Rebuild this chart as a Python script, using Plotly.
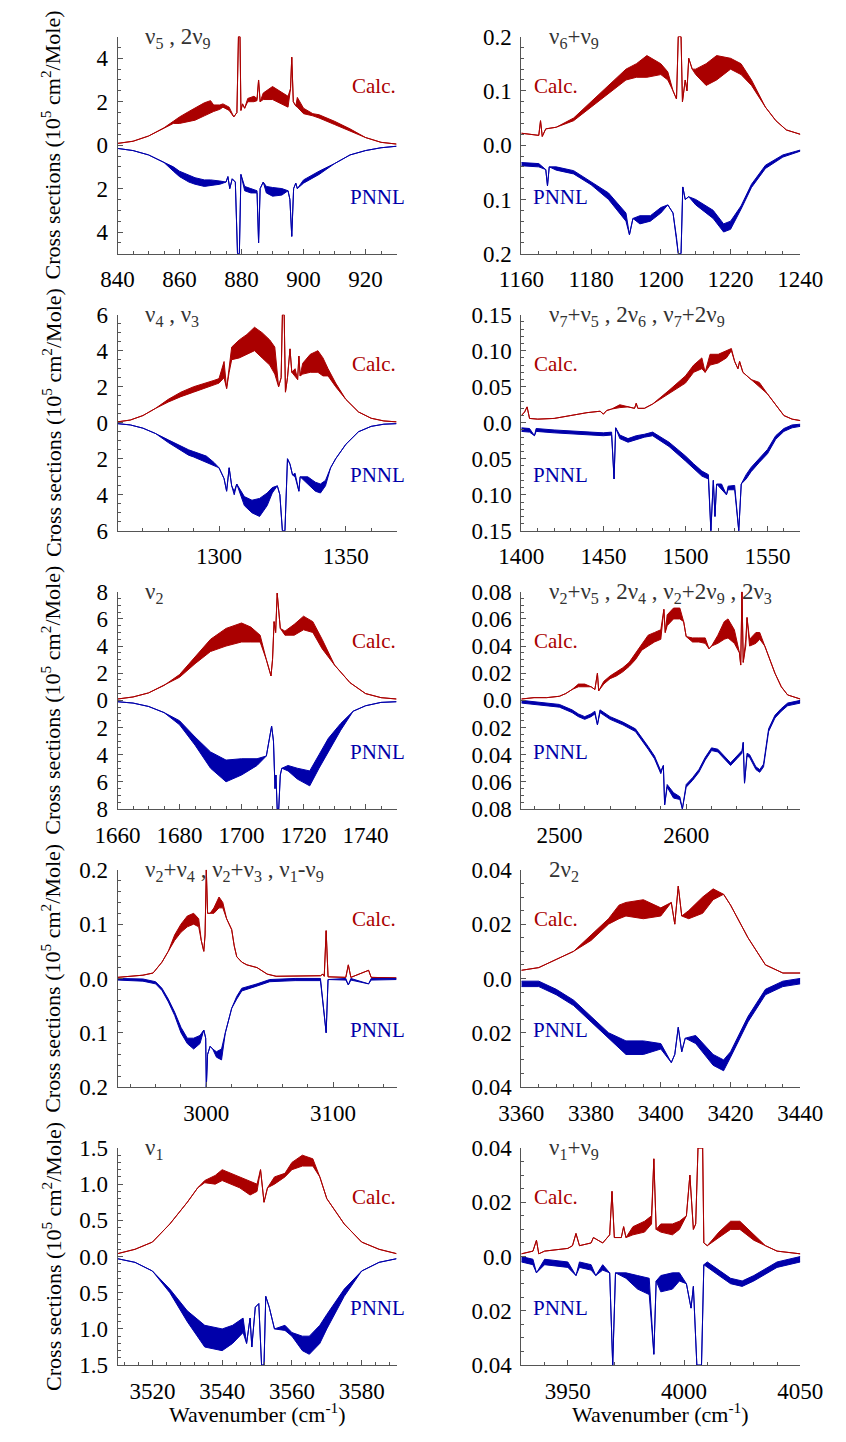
import plotly.graph_objects as go

RED = "#AA0000"
BLUE = "#0000AA"
FONT = "Liberation Serif, Times New Roman, Times, serif"
W, H = 846, 1442

# ---------------- data: (wavenumber, envelope_a[, envelope_b]) ----------------
# PNNL values are stored as magnitudes (drawn downward)
P1_CALC = [(840,0.08),(845,0.18),(850,0.42),(855,0.8),(858,1.0,1.1),(860,1.0,1.3),(863,1.1,1.55),(865,1.15,1.7),
           (868,1.35,1.95),(870,1.5,2.05),(871,1.55,1.85),(873,1.65,1.85),(874,1.75,1.9),(876,1.6,1.75),(877.5,1.3),
           (878.5,1.5),(879,5.0),(879.5,5.0),(879.8,1.6),(880.3,1.9),(881,1.7),(882,2.0,2.15),(884,2.0,2.25),
           (885,2.05,2.15),(885.5,3.0),(886,2.0),(887,2.1,2.4),(890,2.1,2.7),(893,1.9,2.45),(895,1.75,2.25),
           (895.8,2.6),(896.2,4.05),(896.7,2.0),(897.5,1.8),(898,1.75,2.2),(899,1.6,1.95),(900,1.45,1.7),
           (903,1.35,1.45),(905,1.25,1.4),(910,0.95,1.1),(915,0.65,0.75),(920,0.35),(925,0.13),(930,0.05)]
P1_PNNL = [(840,0.15),(845,0.25),(850,0.45),(855,0.8),(858,1.0,1.2),(860,1.2,1.45),(863,1.4,1.7),(865,1.5,1.8),
           (868,1.6,1.9),(870,1.6,1.85),(873,1.65,1.8),(875,1.7),(875.6,1.45),(876.2,2.0),(877,1.55),(878,1.7),
           (878.7,5.0),(879.3,5.0),(879.8,1.35),(881,1.9,2.1),(883,2.0,2.2),(885,2.1,2.2),(885.5,4.5),(886,2.0),
           (887,1.7),(888,1.9,2.2),(890,1.95,2.35),(893,2.0,2.3),(895,2.1),(895.6,2.5),(896.2,4.2),(896.8,2.0),
           (897.5,1.75),(898,2.0),(900,1.6,1.75),(905,1.2,1.35),(910,0.85),(915,0.45),(920,0.25),(925,0.12),(930,0.05)]

P2_CALC = [(1160,0.022),(1163,0.02),(1165,0.018),(1165.5,0.045),(1166,0.016),(1167,0.03),(1170,0.033),
           (1175,0.045,0.05),(1180,0.07,0.08),(1185,0.095,0.11),(1190,0.12,0.14),(1193,0.125,0.15),(1196,0.125,0.165),
           (1200,0.13,0.15),(1202,0.12,0.135),(1203.5,0.1),(1204.5,0.085),(1205,0.2),(1205.8,0.2),(1206.2,0.08),
           (1207,0.12),(1207.5,0.1),(1208,0.16),(1209,0.14),(1210,0.13,0.14),(1213,0.11,0.15),(1216,0.12,0.165),
           (1220,0.14,0.16),(1223,0.13,0.15),(1226,0.11,0.12),(1230,0.07),(1233,0.045),(1236,0.028),(1240,0.02)]
P2_PNNL = [(1160,0.032,0.038),(1165,0.034,0.04),(1167,0.045),(1167.5,0.075),(1168,0.04),(1170,0.04,0.046),
           (1175,0.047,0.053),(1180,0.067,0.073),(1185,0.088,0.1),(1190,0.125,0.14),(1191,0.165),(1192,0.135),
           (1194,0.13,0.145),(1197,0.13,0.14),(1200,0.115,0.125),(1202,0.11),(1203.5,0.125),(1204.5,0.17),
           (1205,0.2),(1205.8,0.2),(1206.3,0.077),(1207,0.1),(1208,0.095),(1210,0.1,0.11),(1215,0.12,0.135),
           (1218,0.145,0.16),(1220,0.14,0.155),(1223,0.112,0.118),(1226,0.072,0.078),(1230,0.037,0.043),
           (1235,0.018,0.022),(1240,0.009,0.011)]

P3_CALC = [(1260,0.05),(1265,0.15),(1270,0.4),(1275,0.8),(1280,1.15,1.3),(1285,1.45,1.7),(1290,1.7,2.0),
           (1295,1.95,2.2),(1298,2.1,2.35),(1300,2.2,2.45),(1302,2.5,3.4),(1303,1.9),(1304,2.8,3.2),(1305,3.5,4.2),
           (1308,3.6,4.6),(1311,3.8,4.9),(1314,4.0,5.3),(1317,3.6,5.0),(1320,3.2,4.6),(1322,2.7,4.2),(1323.5,2.0),
           (1324.5,2.5),(1325,6.0),(1325.7,6.0),(1326.2,1.7),(1327,2.5),(1328,4.1),(1328.7,2.8),(1330,2.6,3.0),
           (1331,2.4),(1331.5,3.7),(1332,2.6),(1333,2.7,3.3),(1336,2.8,3.8),(1339,2.8,4.0),(1341,2.6,3.6),
           (1343,2.6,3.0),(1346,2.0,2.2),(1350,1.3),(1355,0.6),(1360,0.25),(1365,0.1),(1370,0.05)]
P3_PNNL = [(1260,0.05),(1265,0.12),(1270,0.3),(1275,0.6),(1280,0.95,1.1),(1285,1.3,1.55),(1288,1.5,1.8),
           (1290,1.6,1.9),(1295,1.85,2.2),(1298,2.2,2.4),(1300,2.5),(1302,3.1),(1303,3.8),(1304,2.5),(1305,3.5),
           (1306,3.8,4.0),(1307,3.4),(1310,4.1,4.6),(1313,4.3,5.0),(1316,4.2,5.2),(1319,3.9,4.6),(1321,3.6,3.9),
           (1323,3.5),(1324,4.0),(1325,6.0),(1326,6.0),(1327,2.0),(1328,2.3),(1329,2.9),(1330,2.8,3.0),(1331.5,3.8),
           (1332,3.0),(1335,3.0,3.4),(1338,3.3,3.8),(1340,3.4,3.9),(1342,3.2,3.5),(1344,2.5),(1346,2.0),(1350,1.2),
           (1355,0.5),(1360,0.2),(1365,0.08),(1370,0.05)]

P4_CALC = [(1400,0.01),(1402,0.015),(1403.5,0.022),(1405,0.006),(1410,0.005),(1420,0.006),(1430,0.01),(1440,0.014),
           (1448,0.016),(1450,0.012),(1452,0.017),(1455,0.019),(1460,0.021,0.025),(1465,0.022),(1469,0.02),
           (1470,0.027),(1471,0.02),(1475,0.02),(1480,0.026),(1490,0.04,0.045),(1500,0.055,0.065),(1505,0.07,0.08),
           (1510,0.075,0.09),(1512,0.07),(1515,0.08,0.095),(1520,0.083,0.095),(1525,0.09,0.1),(1528,0.1,0.103),
           (1530,0.085),(1532,0.075),(1533,0.085),(1535,0.07),(1540,0.06),(1545,0.05,0.056),(1550,0.04),
           (1555,0.025),(1560,0.01),(1565,0.005),(1570,0.003)]
P4_PNNL = [(1400,0.007,0.012),(1405,0.008,0.013),(1408,0.018),(1409,0.008,0.012),(1420,0.01,0.014),
           (1430,0.011,0.015),(1440,0.013,0.017),(1450,0.014,0.018),(1455,0.013,0.017),(1456.5,0.078),
           (1457.5,0.007),(1460,0.017,0.022),(1465,0.022,0.027),(1470,0.018,0.023),(1475,0.016,0.02),
           (1480,0.013,0.018),(1490,0.027,0.033),(1500,0.046,0.053),(1505,0.057,0.064),(1510,0.067,0.074),
           (1514,0.072,0.078),(1515.5,0.15),(1517,0.08),(1518,0.13),(1519,0.085),(1522,0.085,0.092),(1525,0.1),
           (1526,0.088,0.093),(1530,0.087,0.093),(1532.5,0.15),(1534,0.085),(1537,0.072,0.078),(1540,0.062,0.068),
           (1545,0.049,0.055),(1550,0.037,0.043),(1555,0.018,0.023),(1560,0.008,0.012),(1565,0.003,0.007),
           (1570,0.002,0.005)]

P5_CALC = [(1660,0.1),(1665,0.25),(1670,0.55),(1675,1.1),(1680,1.7,1.9),(1685,2.7,3.2),(1690,3.6,4.5),
           (1695,4.0,5.3),(1700,4.3,5.7),(1703,4.3,5.4),(1706,4.3,4.8),(1708,3.0),(1709.5,1.8),(1710,3.0),
           (1710.5,5.8),(1711,5.0),(1711.5,7.9),(1712.5,5.3),(1714,4.8,5.1),(1717,4.8,5.6),(1720,5.2,6.2),
           (1723,5.0,5.8),(1726,3.8,4.5),(1730,2.6),(1735,1.3),(1740,0.5),(1745,0.2),(1750,0.1)]
P5_PNNL = [(1660,0.1),(1665,0.2),(1670,0.45),(1675,0.9),(1680,1.5,1.8),(1685,2.7,3.3),(1690,3.8,5.0),
           (1695,4.4,6.0),(1700,4.3,5.5),(1705,4.3,4.8),(1708,4.1),(1709,2.8),(1709.7,1.9),(1710.3,3.0),
           (1710.8,6.5),(1711.1,5.5),(1711.5,8.0),(1712,8.0),(1712.5,5.5),(1713,5.0),(1715,4.8,5.2),
           (1718,5.0,5.8),(1722,5.2,6.3),(1725,4.0,5.0),(1728,2.8,3.8),(1732,1.7,2.2),(1736,0.8),(1740,0.4),
           (1745,0.15),(1750,0.1)]

P6_CALC = [(2470,0.001),(2480,0.002),(2490,0.002),(2500,0.003),(2505,0.005),(2510,0.008),(2515,0.01,0.012),
           (2520,0.01,0.012),(2525,0.01),(2528,0.008),(2530,0.02),(2531,0.007),(2535,0.012,0.014),
           (2540,0.016,0.018),(2545,0.018,0.021),(2550,0.021,0.024),(2555,0.025,0.028),(2560,0.03,0.035),
           (2565,0.037,0.042),(2570,0.04,0.048),(2575,0.043,0.05),(2580,0.045,0.052),(2582.4,0.067),
           (2583.5,0.05),(2585,0.055,0.063),(2590,0.06,0.068),(2595,0.06,0.068),(2598,0.058),(2600,0.047),
           (2605,0.043,0.046),(2610,0.043,0.046),(2615,0.042,0.046),(2618,0.038),(2620,0.04),(2625,0.042,0.048),
           (2630,0.045,0.058),(2633,0.046,0.06),(2638,0.042,0.052),(2642,0.035),(2643,0.026),(2644,0.08),
           (2645,0.028),(2647,0.04,0.045),(2648,0.061),(2650,0.04,0.045),(2655,0.042,0.05),(2658,0.045,0.05),
           (2662,0.04),(2665,0.032),(2670,0.02),(2675,0.01),(2680,0.004),(2690,0.001)]
P6_PNNL = [(2470,0.0,0.002),(2480,0.001,0.003),(2490,0.002,0.004),(2500,0.003,0.005),(2510,0.007,0.009),
           (2515,0.01,0.012),(2520,0.012,0.014),(2525,0.01,0.012),(2528,0.008,0.01),(2530,0.018),(2532,0.007,0.009),
           (2540,0.012,0.014),(2550,0.016,0.018),(2560,0.021,0.023),(2570,0.034,0.036),(2575,0.041,0.043),
           (2580,0.052,0.054),(2582,0.048),(2583,0.077),(2585,0.062,0.064),(2590,0.068,0.072),(2595,0.071,0.073),
           (2597,0.08),(2600,0.062,0.064),(2605,0.057,0.059),(2610,0.051,0.053),(2615,0.042,0.044),
           (2620,0.035,0.037),(2625,0.036,0.038),(2630,0.041,0.043),(2635,0.046,0.048),(2640,0.041,0.043),
           (2644,0.037,0.039),(2645,0.031),(2646,0.061),(2648,0.039,0.041),(2650,0.04,0.042),(2655,0.049,0.051),
           (2658,0.051,0.053),(2661,0.047,0.049),(2663,0.034,0.036),(2665,0.021,0.023),(2670,0.011,0.013),
           (2675,0.006,0.008),(2680,0.002,0.004),(2690,0.0,0.002)]

P7_CALC = [(2930,0.002),(2950,0.006),(2958,0.01),(2965,0.03),(2970,0.05),(2975,0.07,0.08),(2980,0.085,0.1),
           (2985,0.095,0.115),(2990,0.1,0.12),(2994,0.095,0.11),(2996,0.07),(2998,0.05),(2999,0.08),(3000,0.2),
           (3001,0.12),(3003,0.12),(3006,0.12,0.13),(3010,0.13,0.15),(3013,0.13,0.14),(3016,0.11),(3020,0.09),
           (3022,0.06),(3024,0.04),(3028,0.03),(3032,0.025),(3040,0.02),(3048,0.008),(3055,0.004),(3090,0.005),
           (3092,0.008),(3093,0.004),(3094.5,0.088),(3096,0.003),(3110,0.002),(3112,0.025),(3114,0.002),
           (3128,0.015),(3130,0.002),(3150,0.001)]
P7_PNNL = [(2930,0.0,0.003),(2950,0.001,0.005),(2960,0.006,0.01),(2965,0.018,0.022),(2970,0.038,0.043),
           (2975,0.062,0.068),(2980,0.09,0.1),(2985,0.11,0.12),(2990,0.11,0.13),(2995,0.105,0.12),(2998,0.095),
           (2999.5,0.11),(3000,0.2),(3001,0.14),(3003,0.125),(3005,0.13),(3008,0.135,0.145),(3012,0.13,0.15),
           (3015,0.1),(3018,0.07),(3020,0.055),(3024,0.033,0.038),(3028,0.018,0.023),(3040,0.01,0.014),
           (3050,0.002,0.006),(3070,0.0,0.004),(3090,0.0,0.004),(3094.5,0.1),(3096,0.002),(3110,0.0,0.003),
           (3112,0.012),(3114,0.0,0.003),(3128,0.01),(3130,0.0,0.003),(3150,0.0,0.002)]

P8_CALC = [(3360,0.003),(3365,0.004),(3370,0.007),(3375,0.01),(3380,0.014,0.016),(3385,0.02,0.022),
           (3388,0.022,0.027),(3390,0.023,0.028),(3395,0.022,0.029),(3400,0.023,0.026),(3403,0.028),(3404,0.02),
           (3405,0.034),(3406,0.023),(3408,0.022,0.025),(3412,0.024,0.03),(3415,0.029,0.033),(3418,0.031),
           (3420,0.027),(3425,0.015),(3430,0.005),(3435,0.002),(3440,0.002)]
P8_PNNL = [(3360,0.001,0.003),(3365,0.001,0.003),(3370,0.004,0.006),(3375,0.008,0.01),(3380,0.014,0.016),
           (3385,0.02,0.022),(3390,0.023,0.028),(3395,0.023,0.028),(3400,0.024,0.026),(3403,0.031),(3404,0.028),
           (3405,0.018),(3406,0.027),(3407,0.022),(3410,0.021,0.024),(3415,0.028,0.032),(3418,0.03,0.034),
           (3420,0.027,0.029),(3425,0.014,0.016),(3430,0.004,0.006),(3435,0.001,0.003),(3440,0.0,0.002)]

P9_CALC = [(3510,0.04),(3515,0.1),(3520,0.2),(3525,0.45),(3530,0.75),(3533,0.95),(3535,1.02,1.05),(3538,1.0,1.12),
           (3540,1.05,1.2),(3545,0.95,1.1),(3548,0.85,1.05),(3550,0.9,1.0),(3551,1.2),(3552,0.75),(3553,0.95),
           (3555,1.0,1.1),(3558,1.1,1.15),(3560,1.2,1.3),(3563,1.25,1.4),(3566,1.25,1.35),(3568,1.1),(3570,0.8),
           (3575,0.45),(3580,0.2),(3585,0.1),(3590,0.04)]
P9_PNNL = [(3510,0.03),(3515,0.08),(3520,0.2),(3525,0.45,0.5),(3530,0.75,0.9),(3535,0.95,1.25),(3540,1.0,1.3),
           (3543,0.95,1.2),(3546,0.85,1.05),(3547,1.2),(3548,0.85),(3548.5,1.25),(3549.5,0.7),(3550.5,0.65),
           (3551.3,1.5),(3552,1.5),(3552.5,0.55),(3553.5,0.7),(3555,1.0),(3558,0.95,1.02),(3560,1.05,1.1),
           (3563,1.1,1.3),(3565,1.1,1.35),(3568,0.95,1.2),(3570,0.8,1.0),(3575,0.45,0.55),(3580,0.2),(3585,0.08),
           (3590,0.03)]

P10_CALC = [(3930,0.001),(3935,0.002),(3936.5,0.006),(3937.5,0.001),(3940,0.002),(3950,0.003),(3952,0.004),
            (3953.5,0.0085),(3955,0.004),(3960,0.005),(3961,0.007),(3965,0.005),(3968,0.008),(3969,0.024),
            (3970,0.007),(3973,0.007),(3974,0.011),(3975,0.007),(3978,0.008,0.011),(3983,0.009,0.013),
            (3986,0.012,0.015),(3987,0.036),(3988,0.01),(3990,0.009,0.012),(3995,0.008,0.012),(3998,0.01,0.013),
            (4001,0.015),(4002.5,0.03),(4004,0.01),(4005,0.012),(4006,0.04),(4008,0.04),(4008.5,0.005),
            (4010,0.004),(4015,0.007,0.009),(4020,0.01,0.013),(4024,0.01,0.013),(4030,0.006,0.008),(4035,0.004),
            (4040,0.002),(4050,0.001)]
P10_PNNL = [(3930,0.0,0.002),(3935,0.001,0.003),(3936.5,0.006),(3940,0.001,0.003),(3950,0.002,0.004),
            (3953.5,0.007),(3955,0.002,0.004),(3960,0.003,0.005),(3962,0.007),(3965,0.003,0.005),(3968,0.006),
            (3969.3,0.04),(3970.5,0.006),(3975,0.006,0.008),(3980,0.007,0.012),(3985,0.008,0.014),(3987,0.036),
            (3988,0.009),(3990,0.007,0.013),(3995,0.006,0.012),(3998,0.006,0.009),(4001,0.01),(4003,0.019),
            (4004,0.011),(4005.5,0.04),(4007.5,0.04),(4008.5,0.003),(4010,0.002,0.004),(4015,0.005,0.007),
            (4020,0.008,0.01),(4025,0.009,0.011),(4030,0.007,0.009),(4040,0.002,0.004),(4050,0.0,0.002)]

# panel settings
X_RANGES = [(840,930),(1160,1240),(1260,1370),(1400,1570),(1660,1750),(2470,2690),(2930,3150),(3360,3440),(3510,3590),(3930,4050)]
X_DTICK = [20,20,50,50,20,100,100,20,20,50]
X_MINOR = [5,5,10,10,5,20,20,5,4,10]
Y_MAX = [5,0.2,6,0.15,8,0.08,0.2,0.04,1.5,0.04]
Y_DTICK = [2,0.1,2,0.05,2,0.02,0.1,0.02,0.5,0.02]
Y_MINOR = [0.5,0.02,0.5,0.01,0.5,0.005,0.02,0.005,0.1,0.005]
Y_DEC = [0,1,0,2,0,2,1,2,1,2]
BAND_LABELS = ["ν<sub>5</sub> , 2ν<sub>9</sub>", "ν<sub>6</sub>+ν<sub>9</sub>", "ν<sub>4</sub> , ν<sub>3</sub>",
               "ν<sub>7</sub>+ν<sub>5</sub> , 2ν<sub>6</sub> , ν<sub>7</sub>+2ν<sub>9</sub>", "ν<sub>2</sub>",
               "ν<sub>2</sub>+ν<sub>5</sub> , 2ν<sub>4</sub> , ν<sub>2</sub>+2ν<sub>9</sub> , 2ν<sub>3</sub>",
               "ν<sub>2</sub>+ν<sub>4</sub> , ν<sub>2</sub>+ν<sub>3</sub> , ν<sub>1</sub>-ν<sub>9</sub>",
               "2ν<sub>2</sub>", "ν<sub>1</sub>", "ν<sub>1</sub>+ν<sub>9</sub>"]
CALC = [P1_CALC,P2_CALC,P3_CALC,P4_CALC,P5_CALC,P6_CALC,P7_CALC,P8_CALC,P9_CALC,P10_CALC]
PNNL = [P1_PNNL,P2_PNNL,P3_PNNL,P4_PNNL,P5_PNNL,P6_PNNL,P7_PNNL,P8_PNNL,P9_PNNL,P10_PNNL]

# ---------------- layout geometry (pixels) ----------------
COLS = [(100, 395), (527, 822)]
ROWS = [(25, 246), (308, 528), (590, 811), (873, 1094), (1156, 1377)]

fig = go.Figure()
layout = dict(width=W, height=H, margin=dict(l=0, r=0, t=0, b=0), plot_bgcolor="white",
              paper_bgcolor="white", showlegend=False, annotations=[], font=dict(family=FONT))

def fmt(v, dec):
    v = abs(v)
    if v < 1e-12:
        return "0" if dec == 0 else "0.0"
    return f"{v:.{dec}f}"

for i in range(10):
    r, c = divmod(i, 2)
    n = i + 1
    xa = "x" if n == 1 else f"x{n}"
    ya = "y" if n == 1 else f"y{n}"
    for data, color, sign in ((CALC[i], RED, 1), (PNNL[i], BLUE, -1)):
        xs = [p[0] for p in data]
        a = [sign * min(p[1:]) for p in data]
        b = [sign * max(p[1:]) for p in data]
        fig.add_trace(go.Scatter(x=xs, y=a, mode="lines", line=dict(color=color, width=1),
                                 xaxis=xa, yaxis=ya, hoverinfo="skip"))
        fig.add_trace(go.Scatter(x=xs, y=b, mode="lines", line=dict(color=color, width=1),
                                 fill="tonexty", fillcolor=color, xaxis=xa, yaxis=ya, hoverinfo="skip"))
    x0, x1 = COLS[c]
    y0, y1 = ROWS[r]
    ymax = Y_MAX[i]
    nt = int(round(ymax / Y_DTICK[i]))
    tv = [k * Y_DTICK[i] for k in range(-nt, nt + 1)]
    xkey = "xaxis" if n == 1 else f"xaxis{n}"
    ykey = "yaxis" if n == 1 else f"yaxis{n}"
    layout[xkey] = dict(domain=[x0 / W, x1 / W], range=list(X_RANGES[i]), anchor=ya,
                        showline=True, linecolor="#555", linewidth=1, showgrid=False, zeroline=False,
                        ticks="inside", ticklen=5, tickcolor="#555", dtick=X_DTICK[i], tick0=0,
                        ticklabelstandoff=5,
                        tickfont=dict(family=FONT, size=23, color="black"),
                        minor=dict(dtick=X_MINOR[i], tick0=0, ticks="inside", ticklen=3, tickcolor="#555"))
    layout[ykey] = dict(domain=[1 - y1 / H, 1 - y0 / H], range=[-ymax, ymax], anchor=xa,
                        showline=True, linecolor="#555", linewidth=1, showgrid=False, zeroline=False,
                        ticks="inside", ticklen=5, tickcolor="#555", tickmode="array", tickvals=tv,
                        ticktext=[fmt(v, Y_DEC[i]) for v in tv], ticklabelstandoff=4,
                        tickfont=dict(family=FONT, size=23, color="black"),
                        minor=dict(dtick=Y_MINOR[i], tick0=0, ticks="inside", ticklen=3, tickcolor="#555"))
    layout["annotations"].append(dict(text=BAND_LABELS[i], xref="paper", yref="paper",
                                      x=(x0 + 27) / W, y=1 - (y0 + 1) / H, xanchor="left", yanchor="middle",
                                      showarrow=False, font=dict(family=FONT, size=23, color="#333")))
    lx = x0 + (271 if c == 0 else 37)
    layout["annotations"].append(dict(text="Calc.", xref="paper", yref="paper", x=lx / W,
                                      y=1 - (y0 + 50) / H, xanchor="center", yanchor="middle",
                                      showarrow=False, font=dict(family=FONT, size=21, color=RED)))
    layout["annotations"].append(dict(text="PNNL", xref="paper", yref="paper", x=(lx + 4) / W,
                                      y=1 - (y0 + 163) / H, xanchor="center", yanchor="middle",
                                      showarrow=False, font=dict(family=FONT, size=21, color=BLUE)))
    if c == 0:
        layout["annotations"].append(dict(text="Cross sections (10<sup>5</sup> cm<sup>2</sup>/Mole)",
                                          xref="paper", yref="paper", x=30 / W, y=1 - ((y0 + y1) / 2) / H,
                                          xanchor="center", yanchor="middle", textangle=-90, showarrow=False,
                                          font=dict(family=FONT, size=22, color="black")))
    if r == 4:
        layout["annotations"].append(dict(text="Wavenumber (cm<sup>-1</sup>)", xref="paper", yref="paper",
                                          x=((x0 + x1) / 2) / W, y=0, xanchor="center",
                                          yanchor="bottom", showarrow=False,
                                          font=dict(family=FONT, size=22, color="black")))

fig.update_layout(**layout)
fig.write_html("out.html")
